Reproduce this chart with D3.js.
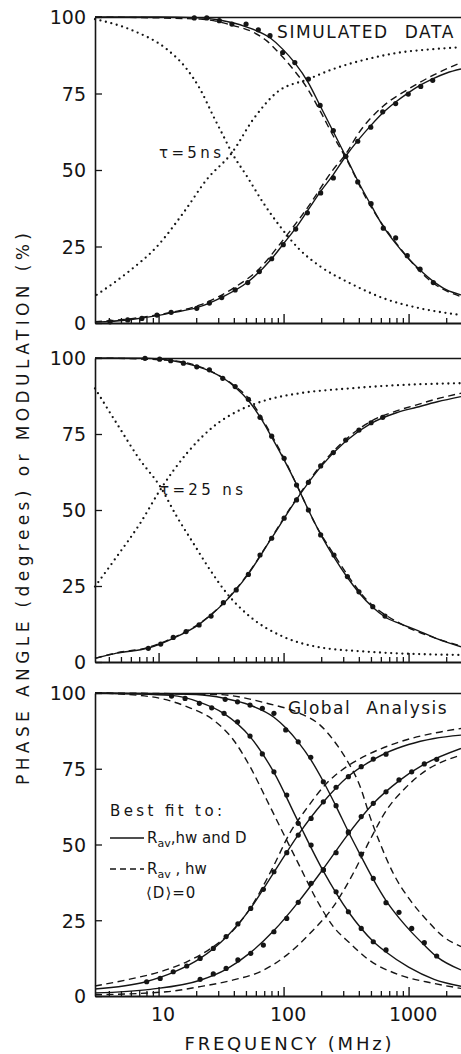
<!doctype html>
<html>
<head>
<meta charset="utf-8">
<script src="https://d3js.org/d3.v7.min.js"></script>
<style>
  body { margin: 0; background: #fff; }
  text { font-family: "DejaVu Sans", sans-serif; fill: #151515; }
  .axis path, .axis line { stroke: #151515; }
</style>
</head>
<body>
<svg id="chart" width="461" height="1054"></svg>
<script>
// axis ticks
var yTicks = [0, 25, 50, 75, 100];
var xTicksMajor = [10, 100, 1000];
var xTicksMinor = [4, 5, 6, 7, 8, 9, 20, 30, 40, 50, 60, 70, 80, 90,
                   200, 300, 400, 500, 600, 700, 800, 900, 2000, 3000];

// ---- panel 1 : simulated data, tau = 5 ns  ([MHz, value])
var p1ModDots = [[19.3,99.7],[24.3,99.7],[30.6,98.8],[38.6,97.7],[50.1,97.7],[62.8,95.8],[77.9,93.9],
  [98.3,88.4],[123,85.1],[158,79.7],[196,71.1],[250,62.9],[314,54.5],[392,46.1],[501,39.0],
  [628,31.0],[788,27.8],[976,22.0],[1235,17.6],[1577,13.2]];
var p1PhaseDots = [[4.09,0.4],[5.66,1.0],[7.35,1.5],[9.71,2.6],[12.6,3.5],[20.2,4.8],[25.5,6.5],
  [32.0,8.3],[41.0,10.8],[51.7,13.2],[64.0,16.8],[80.3,21.0],[99.4,25.6],[125,30.7],[155,36.0],
  [198,42.5],[250,47.4],[314,54.5],[392,59.4],[498,64.0],[621,69.0],[788,71.7],[994,74.8],
  [1251,77.3],[1559,79.3]];
var p1ModFit = [[3.1,100],[10,100],[19.3,99.8],[30.6,99.0],[50.1,96.8],[77.9,93.2],[98.3,89.5],
  [123,85.0],[158,78.5],[196,71.0],[250,62.5],[314,54.5],[392,46.5],[501,38.5],[628,31.5],
  [788,26.0],[976,21.5],[1235,17.3],[1577,13.6],[2017,10.8],[2626,9.2]];
var p1PhaseFit = [[3.1,0.3],[5.66,1.0],[9.71,2.4],[12.6,3.3],[20.2,5.0],[32.0,8.4],[51.7,13.4],
  [80.3,21.0],[99.4,25.8],[125,31.0],[155,36.6],[198,43.0],[250,48.5],[314,54.5],[392,59.6],
  [498,64.5],[621,68.6],[788,72.2],[994,75.2],[1251,77.8],[1559,79.8],[2017,81.7],[2626,83.0]];
var p1ModFitD = [[3.1,100],[21.5,99.3],[39.7,97.2],[57.3,95.0],[73.4,92.2],[93.5,87.9],[119,83.0],
  [153,77.0],[196,69.3],[250,61.1],[314,54.0],[464,40.3],[854,24.5],[1577,13.0],[2626,8.6]];
var p1PhaseFitD = [[3.1,0.4],[6.28,1.5],[11.6,3.2],[21.5,5.9],[39.7,11.4],[62.8,17.4],[99.4,27.2],
  [158,38.1],[250,50.2],[314,55.2],[401,62.2],[628,70.9],[994,76.4],[1577,81.0],[2626,85.1]];
var p1ModTau = [[3.1,99.3],[6.28,95.5],[11.6,89.5],[16.8,83.0],[21.5,76.4],[27.4,67.6],[33.0,61.1],
  [38.6,55.6],[50.8,48.0],[68.9,39.2],[93.5,31.6],[135,23.9],[196,18.5],[340,13.0],[628,8.1],
  [1235,4.8],[2626,2.6]];
var p1PhaseTau = [[3.2,9.2],[5.56,16.3],[9.71,25.0],[15.8,36.0],[24.3,46.9],[38.6,55.6],[57.3,66.6],
  [88.0,75.3],[158,79.7],[250,83.0],[464,86.2],[854,88.4],[1577,89.5],[2626,90.1]];

// ---- panel 2 : tau = 25 ns
var p2ModDots = [[7.79,99.9],[10.2,99.6],[12.5,99.1],[15.8,98.3],[20.2,97.1],[25.5,96.1],[32.6,93.3],
  [41.0,90.6],[52.3,86.4],[64.8,80.5],[80.3,74.3],[101,67.0],[127,58.2],[158,50.0],[198,41.8],
  [253,35.2],[324,28.1],[401,23.1],[517,18.2],[648,15.1]];
var p2PhaseDots = [[8.28,4.5],[10.4,5.9],[13.1,8.1],[16.6,10.0],[21.1,12.2],[26.3,15.1],[33.0,19.5],
  [41.8,23.7],[52.3,28.8],[64.8,35.2],[80.3,40.7],[101,47.3],[127,53.3],[158,59.1],[198,64.5],
  [250,68.9],[314,73.0],[401,76.3],[501,78.7],[621,80.5]];
var p2ModFit = [[3.1,100],[7.79,99.9],[15.8,98.4],[25.5,95.8],[32.6,93.5],[41.0,90.4],[52.3,86.0],
  [64.8,80.6],[80.3,74.0],[101,66.5],[127,58.4],[158,50.0],[198,42.0],[253,34.5],[324,27.8],
  [401,22.8],[517,18.0],[648,14.8],[850,12.6],[1161,10.5],[1700,7.6],[2626,5.0]];
var p2PhaseFit = [[3.1,1.2],[4.62,2.9],[8.28,4.6],[13.1,7.8],[21.1,12.4],[33.0,19.2],[52.3,29.0],
  [80.3,40.8],[127,53.5],[198,64.2],[314,72.6],[501,78.5],[800,82.0],[1161,83.8],[1700,85.6],[2626,87.3]];
var p2ModFitD = [[3.1,100],[11.6,99.3],[21.5,97.1],[39.7,91.1],[53.9,86.2],[73.4,77.4],[99.4,67.5],
  [135,56.0],[184,44.5],[250,35.7],[464,20.4],[854,12.7],[1500,8.4],[2626,5.3]];
var p2PhaseFitD = [[3.1,1.2],[4.62,3.0],[8.28,4.8],[13.1,8.0],[21.1,12.6],[33.0,19.4],[52.3,29.2],
  [80.3,41.0],[127,53.8],[198,64.6],[314,73.2],[501,79.2],[800,82.6],[1161,84.6],[1700,86.6],[2626,88.4]];
var p2ModTau = [[3.1,90.0],[4.62,78.5],[7.12,66.4],[10.3,57.7],[14.0,47.8],[19.0,39.0],[25.8,30.3],
  [35.1,22.6],[53.9,14.9],[99.4,8.3],[184,5.0],[464,3.4],[2626,2.3]];
var p2PhaseTau = [[3.1,24.8],[4.62,34.6],[7.12,45.6],[10.3,56.6],[16.8,68.6],[27.4,77.4],[44.9,82.9],
  [73.4,86.2],[135,88.4],[340,90.0],[854,91.1],[2626,91.7]];

// ---- panel 3 : global analysis, two data sets
var p3Mod1Dots = [[12.7,99.0],[16.3,98.2],[21.2,96.6],[26.6,95.1],[33.4,93.3],[42.8,90.5],[53.9,85.8],
  [67.6,79.9],[83.7,74.0],[106,66.3],[131,57.0],[166,49.8],[208,41.6],[263,34.4],[330,27.8],
  [418,22.3],[522,17.9],[660,15.2]];
var p3Mod2Dots = [[34.1,97.9],[42.8,97.1],[53.9,96.0],[67.6,94.9],[83.7,93.3],[104,87.8],[131,83.9],
  [165,78.8],[208,70.7],[263,62.8],[330,54.2],[418,46.8],[522,38.8],[660,30.8],[838,27.6],
  [1059,22.3],[1336,17.6],[1678,13.2]];
var p3Phase1Dots = [[8.03,4.7],[10.3,5.8],[13.1,8.0],[16.8,9.9],[21.5,12.4],[27.4,15.7],[34.7,19.6],
  [43.1,23.8],[54.6,28.9],[68.9,35.2],[83.7,41.0],[106,47.3],[131,53.1],[166,58.6],[208,64.1],
  [263,68.9],[330,72.4],[418,75.7],[522,78.2],[660,79.8]];
var p3Phase2Dots = [[21.5,5.5],[27.4,7.3],[34.7,9.1],[43.1,11.9],[54.6,14.1],[68.9,16.8],[83.7,21.2],
  [106,25.6],[131,30.9],[166,37.2],[208,41.6],[263,47.3],[330,53.9],[418,59.2],[522,63.6],
  [660,67.4],[838,71.3],[1059,74.0],[1336,76.6],[1678,78.1]];
var p3Mod1Fit = [[3.1,100],[12.7,99.2],[21.2,97.0],[33.4,93.2],[53.9,85.6],[83.7,73.8],[131,57.5],
  [208,41.2],[330,27.8],[522,18.0],[660,14.5],[1000,9.5],[1600,5.5],[2626,3.2]];
var p3Mod2Fit = [[3.1,100],[20,99.5],[34.1,98.2],[53.9,96.0],[83.7,92.0],[104,88.5],[131,83.8],
  [165,78.0],[208,70.8],[263,62.6],[330,54.2],[418,46.0],[522,38.5],[660,31.5],[838,25.8],
  [1059,21.0],[1336,16.8],[1678,13.0],[2626,8.6]];
var p3Phase1Fit = [[3.1,2.3],[8.03,4.8],[13.1,7.8],[21.5,12.4],[34.7,19.4],[54.6,29.0],[83.7,40.8],
  [131,53.2],[208,64.0],[330,72.5],[522,78.0],[660,80.2],[1000,83.0],[1600,85.0],[2626,86.1]];
var p3Phase2Fit = [[3.1,1.0],[8.59,2.2],[21.5,5.2],[34.7,8.8],[54.6,14.4],[83.7,21.6],[131,31.0],
  [208,42.0],[330,53.5],[522,63.5],[838,71.0],[1336,76.5],[2626,81.7]];
var p3Mod1FitD = [[3.1,100],[8.59,98.8],[16.8,95.5],[27.4,91.1],[39.7,84.5],[53.9,75.7],[73.4,64.7],
  [99.4,53.7],[135,42.7],[184,31.7],[250,22.9],[340,17.4],[464,12.4],[854,6.9],[1577,4.2],[2626,2.5]];
var p3Mod2FitD = [[3.1,100],[30,99.5],[73.4,96.6],[135,93.3],[196,89.4],[250,84.5],[320,77.9],
  [410,69.1],[491,59.2],[591,50.4],[754,40.5],[1027,31.7],[1396,25.1],[1895,19.6],[2626,16.3]];
var p3Phase1FitD = [[3.1,3.3],[6.28,5.8],[10.3,8.0],[16.8,11.3],[27.4,16.3],[39.7,21.8],[57.3,30.6],
  [82.7,42.7],[112,53.7],[153,61.9],[221,70.2],[320,75.7],[464,79.5],[854,83.9],[1577,86.7],[2626,88.3]];
var p3Phase2FitD = [[3.1,0.4],[11.6,1.4],[21.5,3.1],[39.7,5.3],[64.8,8.0],[106,13.5],[163,20.7],
  [250,29.5],[361,40.5],[491,51.5],[668,61.4],[966,69.1],[1396,74.6],[2017,77.9],[2626,79.5]];

var svg = d3.select("#chart");
var xScale = d3.scaleLog().domain([3.1, 3100]).range([95, 470]);

function makeY(top, bottom) {
  return d3.scaleLinear().domain([0, 100]).range([bottom, top]);
}

function drawAxes(y, showLabels) {
  var bottom = y(0), top = y(100);
  var g = svg.append("g");

  g.append("g").attr("class", "axis")
    .attr("transform", "translate(0," + top + ")")
    .call(d3.axisTop(xScale).tickValues([]).tickSizeOuter(0))
    .select(".domain").attr("stroke-width", 1.6);

  var ya = g.append("g").attr("class", "axis")
    .attr("transform", "translate(" + xScale(3.1) + ",0)")
    .call(d3.axisLeft(y).tickValues(yTicks).tickSizeInner(-7).tickSizeOuter(0).tickPadding(9));
  ya.select(".domain").attr("stroke-width", 1.6);
  ya.selectAll("line").attr("stroke-width", 1.3);
  ya.selectAll("text").style("font-size", "19px").attr("dy", "0.36em");

  var xm = g.append("g").attr("class", "axis")
    .attr("transform", "translate(0," + bottom + ")")
    .call(d3.axisBottom(xScale).tickValues(xTicksMinor).tickSizeInner(-5).tickSizeOuter(0).tickFormat(""));
  xm.select(".domain").attr("stroke-width", 1.8);
  xm.selectAll("line").attr("stroke-width", 1.3);

  var xM = g.append("g").attr("class", "axis")
    .attr("transform", "translate(0," + bottom + ")")
    .call(d3.axisBottom(xScale).tickValues(xTicksMajor).tickSizeInner(-9).tickSizeOuter(0)
      .tickPadding(12).tickFormat(function(d){ return showLabels ? d : ""; }));
  xM.select(".domain").remove();
  xM.selectAll("line").attr("stroke-width", 1.4);
  xM.selectAll("text").style("font-size", "19px").attr("dx", "4");
}

function drawCurve(data, y, kind) {
  var line = d3.line()
    .x(function(d){ return xScale(d[0]); })
    .y(function(d){ return y(d[1]); })
    .curve(d3.curveMonotoneX);
  var p = svg.append("path").datum(data)
    .attr("d", line)
    .attr("fill", "none")
    .attr("stroke", "#151515");
  if (kind === "solid") {
    p.attr("stroke-width", 1.4);
  } else if (kind === "dashed") {
    p.attr("stroke-width", 1.4).attr("stroke-dasharray", "7,4.5");
  } else {
    p.attr("stroke-width", 2.3).attr("stroke-dasharray", "0,5.6").attr("stroke-linecap", "round");
  }
}

function drawDots(data, y) {
  svg.append("g").selectAll("circle")
    .data(data)
    .enter().append("circle")
      .attr("cx", function(d){ return xScale(d[0]); })
      .attr("cy", function(d){ return y(d[1]); })
      .attr("r", 2.6)
      .attr("fill", "#151515");
}

// panel 1
var y1 = makeY(17, 323);
drawAxes(y1, false);
drawCurve(p1ModTau, y1, "dotted");
drawCurve(p1PhaseTau, y1, "dotted");
drawCurve(p1ModFitD, y1, "dashed");
drawCurve(p1PhaseFitD, y1, "dashed");
drawCurve(p1ModFit, y1, "solid");
drawCurve(p1PhaseFit, y1, "solid");
drawDots(p1ModDots, y1);
drawDots(p1PhaseDots, y1);

// panel 2
var y2 = makeY(358, 662);
drawAxes(y2, false);
drawCurve(p2ModTau, y2, "dotted");
drawCurve(p2PhaseTau, y2, "dotted");
drawCurve(p2ModFitD, y2, "dashed");
drawCurve(p2PhaseFitD, y2, "dashed");
drawCurve(p2ModFit, y2, "solid");
drawCurve(p2PhaseFit, y2, "solid");
drawDots(p2ModDots, y2);
drawDots(p2PhaseDots, y2);

// panel 3
var y3 = makeY(693, 996);
drawAxes(y3, true);
drawCurve(p3Mod1FitD, y3, "dashed");
drawCurve(p3Mod2FitD, y3, "dashed");
drawCurve(p3Phase1FitD, y3, "dashed");
drawCurve(p3Phase2FitD, y3, "dashed");
drawCurve(p3Mod1Fit, y3, "solid");
drawCurve(p3Mod2Fit, y3, "solid");
drawCurve(p3Phase1Fit, y3, "solid");
drawCurve(p3Phase2Fit, y3, "solid");
drawDots(p3Mod1Dots, y3);
drawDots(p3Mod2Dots, y3);
drawDots(p3Phase1Dots, y3);
drawDots(p3Phase2Dots, y3);

// labels
svg.append("text").attr("x", 277).attr("y", 38)
  .style("font-size", "17px").style("letter-spacing", "1.6px").style("word-spacing", "9px")
  .text("SIMULATED DATA");
svg.append("text").attr("x", 288).attr("y", 714)
  .style("font-size", "17px").style("letter-spacing", "1.5px").style("word-spacing", "8px")
  .text("Global Analysis");
svg.append("text").attr("x", 159).attr("y", 158)
  .attr("textLength", 62).attr("lengthAdjust", "spacing")
  .style("font-size", "15px").text("τ=5ns");
svg.append("text").attr("x", 160).attr("y", 495)
  .attr("textLength", 83).attr("lengthAdjust", "spacing")
  .style("font-size", "15px").text("τ=25 ns");

// legend
svg.append("text").attr("x", 110).attr("y", 816)
  .attr("textLength", 112).attr("lengthAdjust", "spacing")
  .style("font-size", "15px").text("Best fit to:");
svg.append("line").attr("x1", 110).attr("x2", 144).attr("y1", 838).attr("y2", 838)
  .attr("stroke", "#151515").attr("stroke-width", 1.4);
svg.append("line").attr("x1", 110).attr("x2", 144).attr("y1", 869).attr("y2", 869)
  .attr("stroke", "#151515").attr("stroke-width", 1.4).attr("stroke-dasharray", "6,4");
var l1 = svg.append("text").attr("x", 147).attr("y", 843).style("font-size", "15px");
l1.append("tspan").text("R");
l1.append("tspan").attr("dy", 4).style("font-size", "11px").text("av");
l1.append("tspan").attr("dy", -4).text(",hw and D");
var l2 = svg.append("text").attr("x", 147).attr("y", 874).style("font-size", "15px");
l2.append("tspan").text("R");
l2.append("tspan").attr("dy", 4).style("font-size", "11px").text("av");
l2.append("tspan").attr("dy", -4).text(" , hw");
svg.append("text").attr("x", 146).attr("y", 898).style("font-size", "15px")
  .style("letter-spacing", "1px").text("⟨D⟩=0");

// axis titles
svg.append("text").attr("x", 288).attr("y", 1050)
  .attr("text-anchor", "middle")
  .attr("textLength", 207).attr("lengthAdjust", "spacing")
  .style("font-size", "18px").text("FREQUENCY (MHz)");
svg.append("text")
  .attr("transform", "translate(29,509) rotate(-90)")
  .attr("text-anchor", "middle")
  .attr("textLength", 552).attr("lengthAdjust", "spacing")
  .style("font-size", "17px").text("PHASE ANGLE (degrees) or MODULATION (%)");
</script>
</body>
</html>
